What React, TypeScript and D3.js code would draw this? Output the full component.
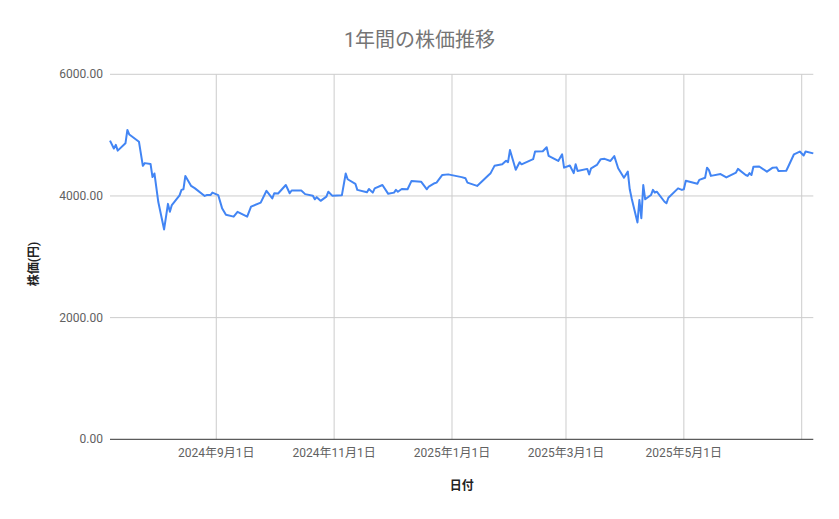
import { useEffect, useRef } from 'react';
import * as d3 from 'd3';

// 日付と終値（チャートから読み取り）
const dates = [
  '2024-07-08', '2024-07-10', '2024-07-11', '2024-07-12', '2024-07-16', '2024-07-17', '2024-07-18',
  '2024-07-23', '2024-07-25', '2024-07-26', '2024-07-29', '2024-07-30', '2024-07-31', '2024-08-02',
  '2024-08-05', '2024-08-07', '2024-08-08', '2024-08-09', '2024-08-13', '2024-08-14', '2024-08-15',
  '2024-08-16', '2024-08-19', '2024-08-21', '2024-08-26', '2024-08-27', '2024-08-29', '2024-08-30',
  '2024-09-02', '2024-09-04', '2024-09-06', '2024-09-10', '2024-09-12', '2024-09-17', '2024-09-19',
  '2024-09-24', '2024-09-27', '2024-09-30', '2024-10-01', '2024-10-03', '2024-10-07', '2024-10-09',
  '2024-10-10', '2024-10-15', '2024-10-17', '2024-10-21', '2024-10-22', '2024-10-23', '2024-10-25',
  '2024-10-28', '2024-10-29', '2024-10-31', '2024-11-05', '2024-11-07', '2024-11-08', '2024-11-12',
  '2024-11-13', '2024-11-18', '2024-11-19', '2024-11-21', '2024-11-22', '2024-11-26', '2024-11-29',
  '2024-12-02', '2024-12-03', '2024-12-04', '2024-12-06', '2024-12-09', '2024-12-11', '2024-12-16',
  '2024-12-19', '2024-12-20', '2024-12-23', '2024-12-24', '2024-12-27', '2024-12-30', '2025-01-06',
  '2025-01-08', '2025-01-09', '2025-01-14', '2025-01-20', '2025-01-21', '2025-01-23', '2025-01-27',
  '2025-01-29', '2025-01-30', '2025-01-31', '2025-02-03', '2025-02-05', '2025-02-06', '2025-02-12',
  '2025-02-13', '2025-02-17', '2025-02-19', '2025-02-20', '2025-02-25', '2025-02-27', '2025-02-28',
  '2025-03-03', '2025-03-05', '2025-03-06', '2025-03-07', '2025-03-12', '2025-03-13', '2025-03-14',
  '2025-03-17', '2025-03-19', '2025-03-21', '2025-03-24', '2025-03-26', '2025-03-28', '2025-03-31',
  '2025-04-02', '2025-04-03', '2025-04-04', '2025-04-07', '2025-04-08', '2025-04-09', '2025-04-10',
  '2025-04-11', '2025-04-14', '2025-04-15', '2025-04-16', '2025-04-17', '2025-04-21', '2025-04-22',
  '2025-04-23', '2025-04-28', '2025-04-30', '2025-05-01', '2025-05-02', '2025-05-08', '2025-05-09',
  '2025-05-12', '2025-05-13', '2025-05-14', '2025-05-15', '2025-05-20', '2025-05-23', '2025-05-28',
  '2025-05-29', '2025-06-02', '2025-06-03', '2025-06-04', '2025-06-05', '2025-06-06', '2025-06-09',
  '2025-06-13', '2025-06-16', '2025-06-18', '2025-06-19', '2025-06-23', '2025-06-24', '2025-06-27',
  '2025-06-30', '2025-07-02', '2025-07-03', '2025-07-07',
];

const prices = [
  4910, 4780, 4840, 4745, 4865, 5085, 5010,
  4890, 4495, 4540, 4525, 4310, 4370, 3900,
  3450, 3870, 3740, 3850, 4010, 4100, 4110,
  4330, 4165, 4125, 4000, 4015, 4015, 4055,
  4015, 3800, 3690, 3660, 3740, 3660, 3825,
  3890, 4085, 3960, 4045, 4040, 4180, 4045,
  4090, 4090, 4030, 4005, 3945, 3980, 3920,
  3990, 4070, 4005, 4010, 4370, 4275, 4200,
  4100, 4060, 4115, 4055, 4125, 4180, 4035,
  4055, 4100, 4070, 4115, 4110, 4245, 4235,
  4110, 4155, 4210, 4220, 4345, 4355, 4310,
  4290, 4220, 4165, 4345, 4375, 4495, 4520,
  4580, 4555, 4755, 4430, 4555, 4520, 4605,
  4730, 4735, 4800, 4660, 4575, 4685, 4465,
  4500, 4375, 4520, 4410, 4445, 4355, 4455,
  4510, 4605, 4610, 4575, 4655, 4455, 4300,
  4400, 4110, 3960, 3565, 3935, 3635, 4180,
  3945, 4015, 4100, 4055, 4070, 3905, 3880,
  3970, 4125, 4100, 4110, 4250, 4200, 4265,
  4300, 4465, 4425, 4330, 4360, 4305, 4385,
  4445, 4345, 4330, 4375, 4345, 4480, 4485,
  4400, 4465, 4470, 4410, 4415, 4480, 4685,
  4730, 4665, 4730, 4700,
];

const xTicks = ['2024-09-01', '2024-11-01', '2025-01-01', '2025-03-01', '2025-05-01', '2025-07-01'];
const xTickLabels = ['2024年9月1日', '2024年11月1日', '2025年1月1日', '2025年3月1日', '2025年5月1日', ''];
const yTicks = [0, 2000, 4000, 6000];
const xDomain = ['2024-07-08', '2025-07-07'];

const FONT = "Roboto, 'Noto Sans CJK JP', sans-serif";

export default function App() {
  const svgRef = useRef<SVGSVGElement>(null);

  useEffect(() => {
    if (!svgRef.current) return;
    const svg = d3.select(svgRef.current);
    svg.selectAll('*').remove();

    const parse = d3.utcParse('%Y-%m-%d');
    const data = dates.map((d, i) => ({ date: parse(d) as Date, value: prices[i] }));

    const left = 110;
    const right = 813.3;
    const top = 74.3;
    const bottom = 439.3;

    const x = d3.scaleUtc()
      .domain(xDomain.map(d => parse(d) as Date))
      .range([left, right]);
    const y = d3.scaleLinear().domain([0, 6000]).range([bottom, top]);

    // 横グリッド
    svg.append('g')
      .selectAll('line')
      .data(yTicks.filter(t => t > 0))
      .enter()
      .append('line')
      .attr('x1', left).attr('x2', right)
      .attr('y1', d => y(d)).attr('y2', d => y(d))
      .attr('stroke', '#cccccc').attr('stroke-width', 1);

    // 縦グリッド
    svg.append('g')
      .selectAll('line')
      .data(xTicks)
      .enter()
      .append('line')
      .attr('x1', d => x(parse(d) as Date)).attr('x2', d => x(parse(d) as Date))
      .attr('y1', top).attr('y2', bottom)
      .attr('stroke', '#cccccc').attr('stroke-width', 1);

    // Y軸ラベル
    svg.append('g')
      .selectAll('text')
      .data(yTicks)
      .enter()
      .append('text')
      .attr('x', left - 7)
      .attr('y', d => y(d) + 4)
      .attr('text-anchor', 'end')
      .attr('fill', '#616161')
      .style('font-family', FONT)
      .style('font-size', '12px')
      .text(d => d.toFixed(2));

    // X軸ラベル
    svg.append('g')
      .selectAll('text')
      .data(xTicks)
      .enter()
      .append('text')
      .attr('x', d => x(parse(d) as Date))
      .attr('y', 457)
      .attr('text-anchor', 'middle')
      .attr('fill', '#616161')
      .style('font-family', FONT)
      .style('font-size', '12px')
      .text((_, i) => xTickLabels[i]);

    // ベースライン
    svg.append('line')
      .attr('x1', left).attr('x2', right)
      .attr('y1', y(0)).attr('y2', y(0))
      .attr('stroke', '#333333').attr('stroke-width', 1);

    // 株価ライン
    const line = d3.line<{ date: Date; value: number }>()
      .x(d => x(d.date))
      .y(d => y(d.value));

    svg.append('path')
      .datum(data)
      .attr('fill', 'none')
      .attr('stroke', '#4285f4')
      .attr('stroke-width', 2)
      .attr('stroke-linejoin', 'round')
      .attr('d', line);

    // タイトル
    svg.append('text')
      .attr('x', 419.5)
      .attr('y', 47)
      .attr('text-anchor', 'middle')
      .attr('fill', '#757575')
      .style('font-family', FONT)
      .style('font-size', '20px')
      .text('1年間の株価推移');

    // 軸タイトル
    svg.append('text')
      .attr('x', (left + right) / 2)
      .attr('y', 490)
      .attr('text-anchor', 'middle')
      .attr('fill', '#222222')
      .style('font-family', FONT)
      .style('font-size', '12px')
      .style('font-weight', 'bold')
      .text('日付');

    svg.append('text')
      .attr('transform', 'translate(38,264) rotate(-90)')
      .attr('text-anchor', 'middle')
      .attr('fill', '#222222')
      .style('font-family', FONT)
      .style('font-size', '12px')
      .style('font-weight', 'bold')
      .text('株価(円)');
  }, []);

  return (
    <svg
      ref={svgRef}
      width={839}
      height={519}
      style={{ position: 'absolute', left: 0, top: 0, background: '#fff' }}
    />
  );
}
